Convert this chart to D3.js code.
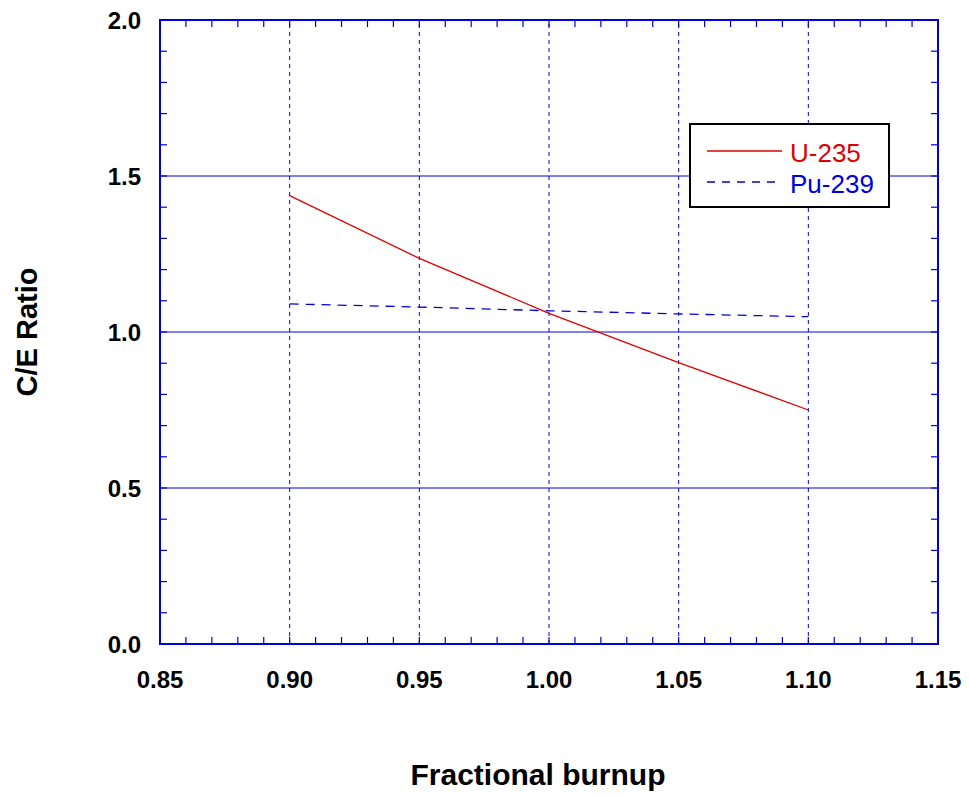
<!DOCTYPE html>
<html>
<head>
<meta charset="utf-8">
<script src="https://cdn.jsdelivr.net/npm/d3@7"></script>
<style>
  body { margin: 0; background: #fff; }
  text { font-family: "Liberation Sans", Arial, sans-serif; }
</style>
</head>
<body>
<div id="chart"></div>
<script>
const burnup = [0.90, 0.95, 1.00, 1.05, 1.10];
const u235 = [1.437, 1.236, 1.060, 0.902, 0.750];
const pu239 = [1.090, 1.080, 1.068, 1.058, 1.049];
const xTicks = [0.85, 0.90, 0.95, 1.00, 1.05, 1.10, 1.15];
const yTicks = [0.0, 0.5, 1.0, 1.5, 2.0];

const width = 969;
const height = 796;
const margin = { top: 20, right: 31, bottom: 152, left: 160 };
const blue = "#0000dd";

const svg = d3.select("#chart")
  .append("svg")
  .attr("width", width)
  .attr("height", height);

const x = d3.scaleLinear().domain([0.85, 1.15]).range([margin.left, width - margin.right]);
const y = d3.scaleLinear().domain([0, 2]).range([height - margin.bottom, margin.top]);

const x0 = x.range()[0], x1 = x.range()[1];
const yb = y.range()[0], yt = y.range()[1];

// grid
const g = svg.append("g");
g.selectAll("line.vgrid")
  .data(xTicks.slice(1, -1))
  .enter().append("line")
  .attr("x1", d => x(d)).attr("x2", d => x(d))
  .attr("y1", yb).attr("y2", yt)
  .attr("stroke", blue).attr("stroke-width", 1)
  .attr("stroke-dasharray", "4,4");

g.selectAll("line.hgrid")
  .data(yTicks.slice(1, -1))
  .enter().append("line")
  .attr("x1", x0).attr("x2", x1)
  .attr("y1", d => y(d)).attr("y2", d => y(d))
  .attr("stroke", blue).attr("stroke-width", 1.2);

// minor ticks, inward on all four sides
const xMinor = d3.range(0, 31).map(i => 0.85 + i * 0.01);
const yMinor = d3.range(0, 21).map(i => i * 0.1);
const tl = 7;

g.selectAll("line.xmb").data(xMinor).enter().append("line")
  .attr("x1", d => x(d)).attr("x2", d => x(d))
  .attr("y1", yb).attr("y2", yb - tl)
  .attr("stroke", blue).attr("stroke-width", 1.2);
g.selectAll("line.xmt").data(xMinor).enter().append("line")
  .attr("x1", d => x(d)).attr("x2", d => x(d))
  .attr("y1", yt).attr("y2", yt + tl)
  .attr("stroke", blue).attr("stroke-width", 1.2);
g.selectAll("line.yml").data(yMinor).enter().append("line")
  .attr("x1", x0).attr("x2", x0 + tl)
  .attr("y1", d => y(d)).attr("y2", d => y(d))
  .attr("stroke", blue).attr("stroke-width", 1.2);
g.selectAll("line.ymr").data(yMinor).enter().append("line")
  .attr("x1", x1).attr("x2", x1 - tl)
  .attr("y1", d => y(d)).attr("y2", d => y(d))
  .attr("stroke", blue).attr("stroke-width", 1.2);

// frame
svg.append("rect")
  .attr("x", x0).attr("y", yt)
  .attr("width", x1 - x0).attr("height", yb - yt)
  .attr("fill", "none").attr("stroke", blue).attr("stroke-width", 2);

// tick labels
svg.selectAll("text.xt").data(xTicks).enter().append("text")
  .attr("x", d => x(d)).attr("y", yb + 44)
  .attr("text-anchor", "middle")
  .attr("font-size", 24).attr("font-weight", "bold")
  .text(d => d.toFixed(2));

svg.selectAll("text.yt").data(yTicks).enter().append("text")
  .attr("x", x0 - 19).attr("y", d => y(d) + 8.5)
  .attr("text-anchor", "end")
  .attr("font-size", 24).attr("font-weight", "bold")
  .text(d => d.toFixed(1));

// axis titles
svg.append("text")
  .attr("x", 538).attr("y", 785)
  .attr("text-anchor", "middle")
  .attr("font-size", 30).attr("font-weight", "bold")
  .text("Fractional burnup");

svg.append("text")
  .attr("transform", `translate(37,${(yt + yb) / 2}) rotate(-90)`)
  .attr("text-anchor", "middle")
  .attr("font-size", 29).attr("font-weight", "bold")
  .text("C/E Ratio");

// series
const line = d3.line().x((d, i) => x(burnup[i])).y(d => y(d));

svg.append("path")
  .datum(u235)
  .attr("d", line)
  .attr("fill", "none").attr("stroke", "#e00000").attr("stroke-width", 1.3);

svg.append("path")
  .datum(pu239)
  .attr("d", line)
  .attr("fill", "none").attr("stroke", blue).attr("stroke-width", 1.3)
  .attr("stroke-dasharray", "9,7");

// legend
const legend = svg.append("g").attr("transform", "translate(690,124)");
legend.append("rect")
  .attr("width", 199).attr("height", 83)
  .attr("fill", "#fff").attr("stroke", "#000").attr("stroke-width", 2);

const items = [
  { name: "U-235", color: "#e00000", dash: null },
  { name: "Pu-239", color: blue, dash: "8,7" }
];
items.forEach((it, i) => {
  const yy = 27 + i * 31;
  legend.append("line")
    .attr("x1", 17).attr("x2", 92)
    .attr("y1", yy).attr("y2", yy)
    .attr("stroke", it.color).attr("stroke-width", 1.3)
    .attr("stroke-dasharray", it.dash);
  legend.append("text")
    .attr("x", 100).attr("y", yy + 10.5)
    .attr("font-size", 26)
    .attr("fill", it.color)
    .text(it.name);
});
</script>
</body>
</html>
